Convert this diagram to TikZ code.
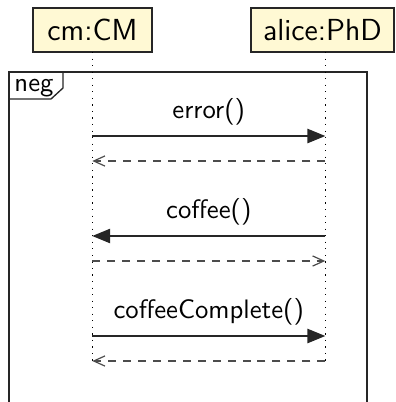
\documentclass[tikz,border=0pt]{standalone}
\usetikzlibrary{arrows.meta}
\definecolor{instfill}{RGB}{255,249,212}
\begin{document}
\begin{tikzpicture}[x=0.3745pt,y=-0.3745pt,
  font=\sffamily\fontsize{10}{12}\selectfont,
  inst/.style={draw=black!85, line width=0.55pt, fill=instfill, inner sep=0pt,
    minimum height=16.5pt, font=\sffamily\fontsize{11.4}{13}\selectfont},
  lifeline/.style={dotted, line width=0.45pt},
  call/.style={draw=black!85, line width=0.45pt, -{Triangle[length=6.7pt,width=5.4pt]}},
  reply/.style={draw=black!70, line width=0.45pt, dash pattern=on 3pt off 2.6pt,
    -{Straight Barb[length=4.2pt,width=3.8pt]}},
  msg/.style={anchor=base, inner sep=0pt},
  frameline/.style={draw=black!85, line width=0.5pt}]
\useasboundingbox (0,0) rectangle (396,402);

% instances
\node[inst, minimum width=44.6pt] (cm) at (92.5,30) {cm:CM};
\node[inst, minimum width=53.6pt] (alice) at (322.5,30) {alice:PhD};

% combined fragment frame
\draw[frameline] (9,410) -- (9,72) -- (367,72) -- (367,410);
\draw[frameline] (9,72) -- (63,72) -- (63,88) -- (51,99) -- (9,99);
\node[msg] (neg) at (34,91.5) {neg};

% lifeline coordinates
\coordinate (cmtop) at (92.3,52);
\coordinate (cmbot) at (92.3,361);
\coordinate (altop) at (325.3,52);
\coordinate (albot) at (325.3,361);
\draw[lifeline] (cmtop) -- (cmbot);
\draw[lifeline] (altop) -- (albot);

% message end points
\coordinate (c1) at (92.3,136);  \coordinate (a1) at (325.3,136);
\coordinate (c2) at (92.3,161);  \coordinate (a2) at (325.3,161);
\coordinate (c3) at (92.3,236);  \coordinate (a3) at (325.3,236);
\coordinate (c4) at (92.3,261);  \coordinate (a4) at (325.3,261);
\coordinate (c5) at (92.3,336);  \coordinate (a5) at (325.3,336);
\coordinate (c6) at (92.3,361);  \coordinate (a6) at (325.3,361);

% messages
\node[msg] (l1) at (208.8,118.3) {error()};
\draw[call] (c1) -- (a1);
\draw[reply] (a2) -- (c2);

\node[msg] (l2) at (208.8,218.3) {coffee()};
\draw[call] (a3) -- (c3);
\draw[reply] (c4) -- (a4);

\node[msg] (l3) at (208.8,318.3) {coffeeComplete()};
\draw[call] (c5) -- (a5);
\draw[reply] (a6) -- (c6);
\end{tikzpicture}
\end{document}
